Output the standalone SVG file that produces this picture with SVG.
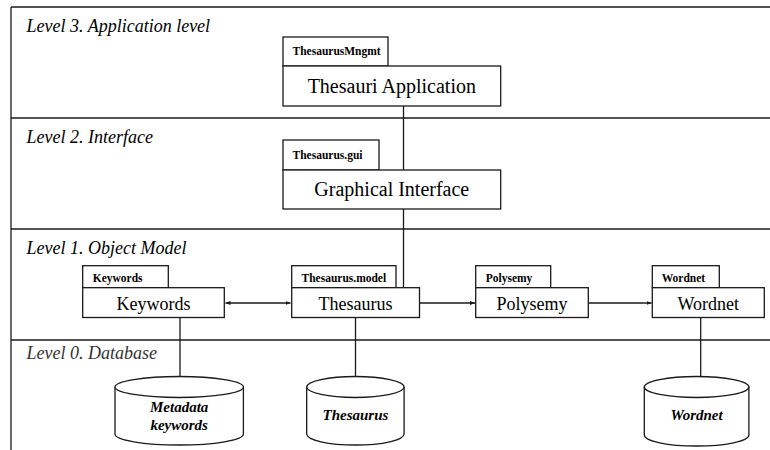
<svg xmlns="http://www.w3.org/2000/svg" width="770" height="450" viewBox="0 0 770 450">
<style>
  .band { fill: none; stroke: #1a1a1a; stroke-width: 1.3; }
  .box { fill: #ffffff; stroke: #1a1a1a; stroke-width: 1.3; }
  text { font-family: 'Times New Roman', Times, Tinos, 'Liberation Serif', 'Noto Serif', 'DejaVu Serif', 'FreeSerif', 'Nimbus Roman', 'Nimbus Roman No9 L', serif; }
  .lvl { font-style: italic; font-size: 18px; fill: #000; }
  .lvl0 { fill: #333; }
  .tab { font-weight: bold; font-size: 11.5px; fill: #000; }
  .main { font-size: 18px; fill: #000; text-anchor: middle; }
  .big { font-size: 20px; }
  .db { font-weight: bold; font-style: italic; font-size: 15px; fill: #000; text-anchor: middle; }
  .conn { fill: none; stroke: #1a1a1a; stroke-width: 1.3; }
</style>
<defs>
  <marker id="arr" viewBox="0 0 10 10" refX="10" refY="5" markerWidth="5" markerHeight="5" orient="auto-start-reverse" markerUnits="userSpaceOnUse">
    <path d="M0,1 L10,5 L0,9 Z" fill="#1a1a1a"/>
  </marker>
</defs>
<rect width="770" height="450" fill="#ffffff"/>

<g id="levels">
  <line class="band" x1="11" y1="7" x2="11" y2="450"/>
  <line class="band" x1="11" y1="7" x2="770" y2="7"/>
  <line class="band" x1="11" y1="118" x2="770" y2="118"/>
  <line class="band" x1="11" y1="229" x2="770" y2="229"/>
  <line class="band" x1="11" y1="340" x2="770" y2="340"/>
  <text class="lvl" x="26.5" y="32">Level 3. Application level</text>
  <text class="lvl" x="26.5" y="142.5">Level 2. Interface</text>
  <text class="lvl" x="26.5" y="254">Level 1. Object Model</text>
  <text class="lvl lvl0" x="26.5" y="358.5">Level 0. Database</text>
</g>

<g id="connectors">
  <line class="conn" x1="403.5" y1="106" x2="403.5" y2="170"/>
  <line class="conn" x1="403.5" y1="209" x2="403.5" y2="287.7"/>
  <line class="conn" x1="225.5" y1="303" x2="290.5" y2="303" marker-start="url(#arr)" marker-end="url(#arr)"/>
  <line class="conn" x1="419.5" y1="303" x2="475" y2="303" marker-end="url(#arr)"/>
  <line class="conn" x1="588.3" y1="303" x2="651.6" y2="303" marker-end="url(#arr)"/>
  <line class="conn" x1="180" y1="317.5" x2="180" y2="376.5"/>
  <line class="conn" x1="355.5" y1="317.5" x2="355.5" y2="376.5"/>
  <line class="conn" x1="700.7" y1="317.5" x2="700.7" y2="376.5"/>
</g>

<g id="thesauri-application">
  <rect class="box" x="283" y="37" width="105" height="29"/>
  <text class="tab" x="292.5" y="55">ThesaurusMngmt</text>
  <rect class="box" x="283" y="66" width="217.7" height="40"/>
  <text class="main big" x="391.8" y="93">Thesauri Application</text>
</g>

<g id="graphical-interface">
  <rect class="box" x="283" y="140" width="96" height="30"/>
  <text class="tab" x="292.5" y="159">Thesaurus.gui</text>
  <rect class="box" x="283" y="170" width="217.7" height="39"/>
  <text class="main big" x="391.8" y="196">Graphical Interface</text>
</g>

<g id="keywords">
  <rect class="box" x="82.7" y="265.7" width="85.6" height="22"/>
  <text class="tab" x="92.7" y="281.5">Keywords</text>
  <rect class="box" x="82.7" y="287.7" width="141.6" height="29.8"/>
  <text class="main" x="153.5" y="309.5">Keywords</text>
</g>

<g id="thesaurus">
  <rect class="box" x="291.7" y="265.7" width="104.3" height="22"/>
  <text class="tab" x="301.5" y="281.5">Thesaurus.model</text>
  <rect class="box" x="291.7" y="287.7" width="127.8" height="29.8"/>
  <text class="main" x="355.6" y="309.5">Thesaurus</text>
</g>

<g id="polysemy">
  <rect class="box" x="475.7" y="265.7" width="75" height="22"/>
  <text class="tab" x="485.7" y="281.5">Polysemy</text>
  <rect class="box" x="475.7" y="287.7" width="112.6" height="29.8"/>
  <text class="main" x="532" y="309.5">Polysemy</text>
</g>

<g id="wordnet">
  <rect class="box" x="652.3" y="265.7" width="67" height="22"/>
  <text class="tab" x="661.7" y="281.5">Wordnet</text>
  <rect class="box" x="652.3" y="287.7" width="112" height="29.8"/>
  <text class="main" x="708.3" y="309.5">Wordnet</text>
</g>

<g id="db-metadata-keywords">
  <path class="box" d="M115,387 L115,434 A64.2,11 0 0 0 243.4,434 L243.4,387"/>
  <ellipse class="box" cx="179.2" cy="387" rx="64.2" ry="10.5"/>
  <text class="db" x="179.2" y="412">Metadata</text>
  <text class="db" x="179.2" y="430">keywords</text>
</g>

<g id="db-thesaurus">
  <path class="box" d="M306.7,387 L306.7,434 A48.7,11 0 0 0 404.1,434 L404.1,387"/>
  <ellipse class="box" cx="355.4" cy="387" rx="48.7" ry="10.5"/>
  <text class="db" x="355.4" y="420">Thesaurus</text>
</g>

<g id="db-wordnet">
  <path class="box" d="M644.3,387 L644.3,435 A52.3,11 0 0 0 748.9,435 L748.9,387"/>
  <ellipse class="box" cx="696.6" cy="387" rx="52.3" ry="10.5"/>
  <text class="db" x="696.6" y="420">Wordnet</text>
</g>
</svg>
